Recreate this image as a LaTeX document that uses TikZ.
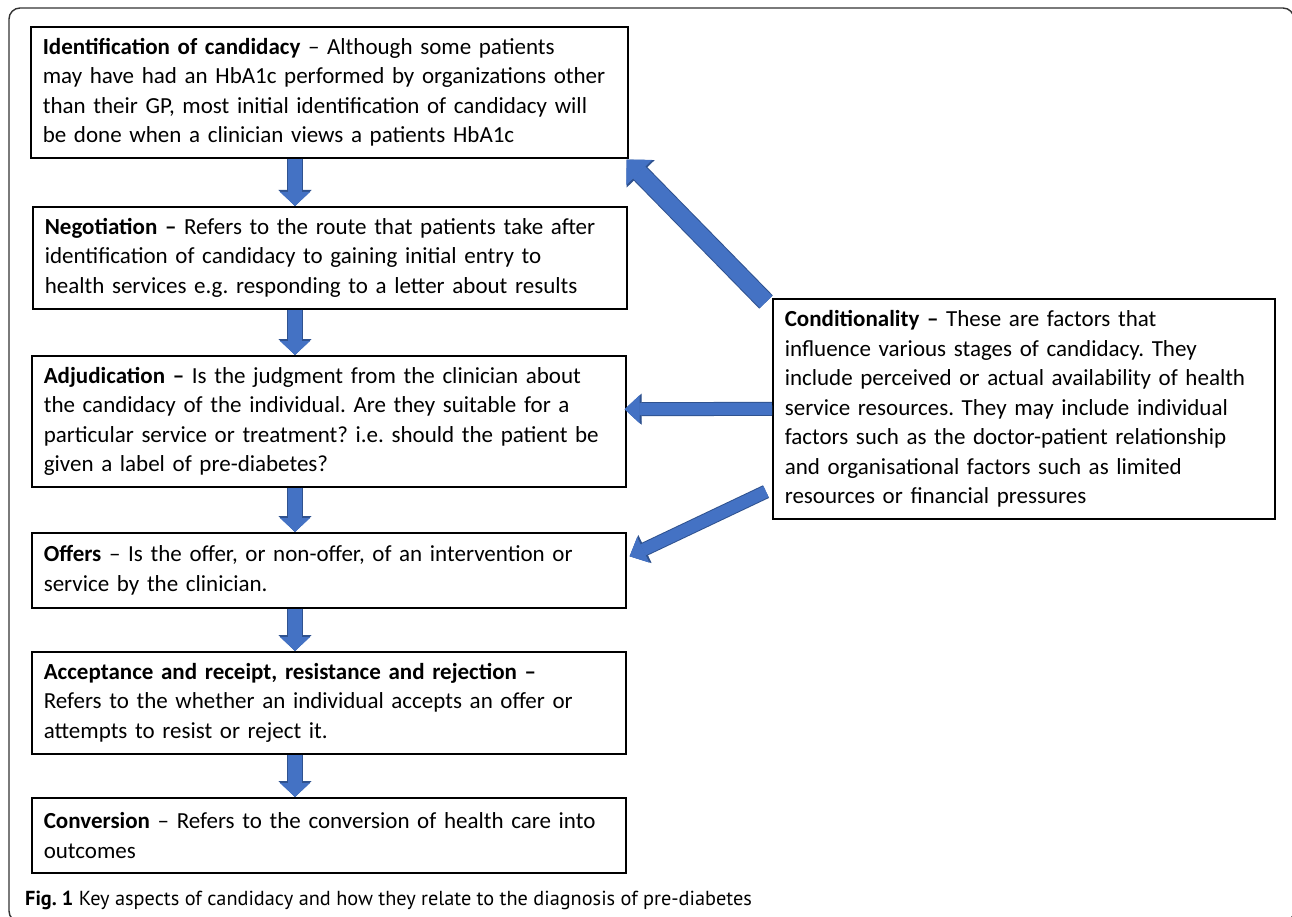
\documentclass[tikz,border=0pt]{standalone}
\usepackage{fontspec}
\setmainfont{Carlito}
\newfontfamily\capfont{PT Sans}
\usetikzlibrary{calc,arrows.meta}
\frenchspacing

\definecolor{arrowfill}{RGB}{68,114,196}
\definecolor{arrowedge}{RGB}{47,82,143}
\definecolor{framegray}{RGB}{50,50,50}

\begin{document}
\begin{tikzpicture}[
    x=1pt, y=-1pt,
    every node/.style={font=\fontsize{23}{29.5}\selectfont},
    stage/.style={draw, line width=1.6pt, rectangle, anchor=north west,
        align=left, inner xsep=12pt, inner ysep=0pt, text width=#1},
    downarrow/.style={draw=arrowfill, line width=14pt,
        -{Triangle[width=30pt,length=14pt,line width=0.8pt]},
        preaction={draw=arrowedge, line width=16pt,
        -{Triangle[width=33pt,length=16pt,line width=0.8pt]}}},
    bigarrow/.style={draw=arrowfill, line width=17pt,
        -{Triangle[width=36pt,length=18pt,line width=0.8pt]},
        preaction={draw=arrowedge, line width=19pt,
        -{Triangle[width=39pt,length=20pt,line width=0.8pt]}}},
    sidearrow/.style={draw=arrowfill, line width=12pt,
        -{Triangle[width=28pt,length=15pt,line width=0.8pt]},
        preaction={draw=arrowedge, line width=14pt,
        -{Triangle[width=31pt,length=17pt,line width=0.8pt]}}}
]

\useasboundingbox (0,0) rectangle (1292,917);

%======================
% Frame
%======================

\draw[framegray, line width=1.4pt, rounded corners=11pt]
    (9,8) rectangle (1294,922);

%======================
% Stages
%======================

\coordinate (ax) at (295,0);

\node[stage=573pt, minimum height=131pt] (ident) at (30,26)
    {\textbf{Identification of candidacy} – Although some patients\\
     may have had an HbA1c performed by organizations other\\
     than their GP, most initial identification of candidacy will\\
     be done when a clinician views a patients HbA1c};

\node[stage=570pt, minimum height=102pt] (nego) at (32,206)
    {\textbf{Negotiation –} Refers to the route that patients take after\\
     identification of candidacy to gaining initial entry to\\
     health services e.g. responding to a letter about results};

\node[stage=570pt, minimum height=131pt] (adjud) at (31,355)
    {\textbf{Adjudication –} Is the judgment from the clinician about\\
     the candidacy of the individual. Are they suitable for a\\
     particular service or treatment? i.e. should the patient be\\
     given a label of pre-diabetes?};

\node[stage=570pt, minimum height=75pt] (offer) at (31,532)
    {\textbf{Offers} – Is the offer, or non-offer, of an intervention or\\
     service by the clinician.};

\node[stage=570pt, minimum height=102pt] (accept) at (31,651)
    {\textbf{Acceptance and receipt, resistance and rejection –}\\
     Refers to the whether an individual accepts an offer or\\
     attempts to resist or reject it.};

\node[stage=570pt, minimum height=75pt] (conv) at (31,797)
    {\textbf{Conversion} – Refers to the conversion of health care into\\
     outcomes};

%======================
% Conditionality
%======================

\node[stage=478pt, minimum height=220pt] (cond) at (772,298)
    {\textbf{Conditionality –} These are factors that\\
     influence various stages of candidacy. They\\
     include perceived or actual availability of health\\
     service resources. They may include individual\\
     factors such as the doctor-patient relationship\\
     and organisational factors such as limited\\
     resources or financial pressures};

%======================
% Arrows
%======================

\foreach \a/\b in {ident/nego, nego/adjud, adjud/offer, offer/accept, accept/conv}
    \draw[downarrow] (\a.south -| ax) -- (\b.north -| ax);

\draw[bigarrow] ($(cond.north west)+(-6,4)$) -- ($(ident.south east)+(-2,1)$);
\draw[sidearrow] (cond.west) -- ($(adjud.east)+(-2,-12)$);
\draw[sidearrow] ($(cond.south west)+(-6,-28)$) -- ($(offer.east)+(3,-14)$);

%======================
% Caption
%======================

\node[anchor=west, inner sep=0pt, font=\capfont\fontsize{20.3}{23}\selectfont] (caption)
    at (25,900) {\textbf{Fig. 1} Key aspects of candidacy and how they relate to the diagnosis of pre-diabetes};

\end{tikzpicture}
\end{document}
